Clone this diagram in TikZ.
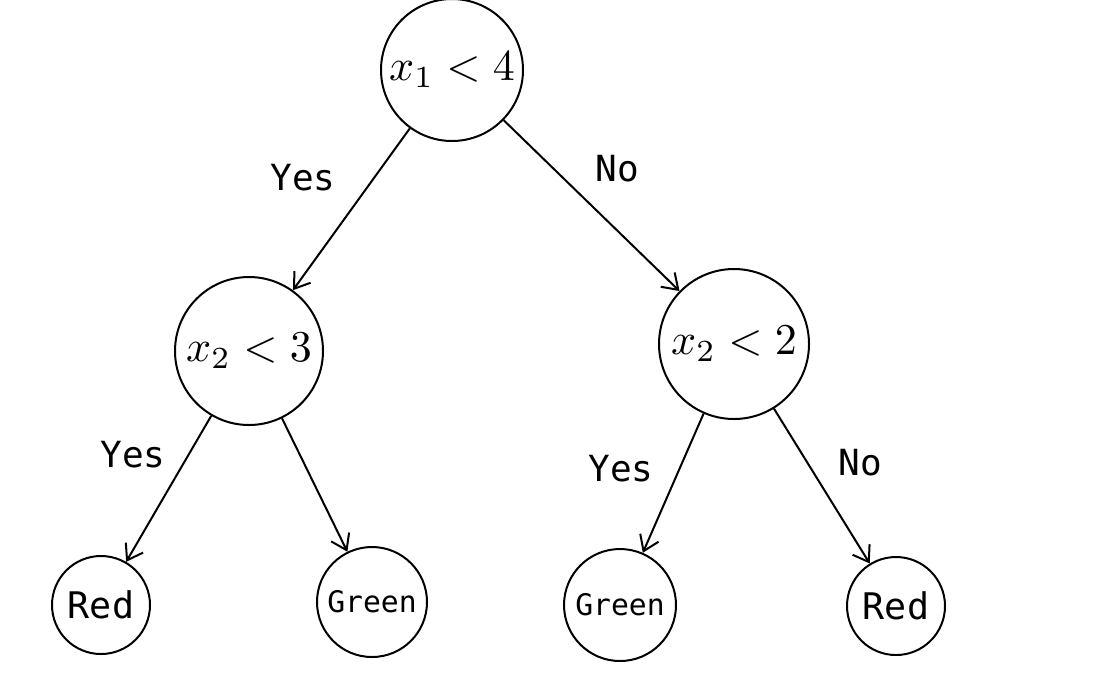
\documentclass[tikz,border=0pt]{standalone}
\usepackage{graphicx}
\usepackage{fontspec}
\setmonofont{DejaVu Sans Mono}
\usetikzlibrary{arrows.meta}
\newcommand{\bigmath}[1]{\scalebox{3.3}{$#1$}}
\begin{document}
\begin{tikzpicture}[x=0.75pt,y=-0.75pt,
  tnode/.style={circle,draw,line width=1.5pt,inner sep=0pt},
  leaf/.style={tnode,font=\ttfamily\fontsize{27.5}{32}\selectfont},
  leafsm/.style={tnode,font=\ttfamily\fontsize{22.3}{26}\selectfont},
  edge/.style={line width=1.5pt,-{Straight Barb[length=11pt,width=15pt,line width=1.5pt]}},
  elbl/.style={font=\ttfamily\fontsize{27}{32}\selectfont}]
\useasboundingbox (0,0) rectangle (1116,683);
\node[tnode,minimum size=106.5pt] (root) at (452,70) {\bigmath{x_1<4}};
\node[tnode,minimum size=111pt] (lm) at (249,351) {\bigmath{x_2<3}};
\node[tnode,minimum size=112.5pt] (rm) at (734,344) {\bigmath{x_2<2}};
\node[leaf,minimum size=73.5pt] (r1) at (101,605) {Red};
\node[leafsm,minimum size=82.5pt] (g1) at (372,602) {Green};
\node[leafsm,minimum size=84pt] (g2) at (620,605) {Green};
\node[leaf,minimum size=73.5pt] (r2) at (896,606) {Red};
\draw[edge] (root) -- (lm);
\draw[edge] (root) -- (rm);
\draw[edge] (lm) -- (r1);
\draw[edge] (lm) -- (g1);
\draw[edge] (rm) -- (g2);
\draw[edge] (rm) -- (r2);
\node[elbl] (l1) at (303,178) {Yes};
\node[elbl] (l2) at (617,169) {No};
\node[elbl] (l3) at (133,455) {Yes};
\node[elbl] (l4) at (621,469) {Yes};
\node[elbl] (l5) at (860,463) {No};
\end{tikzpicture}
\end{document}
